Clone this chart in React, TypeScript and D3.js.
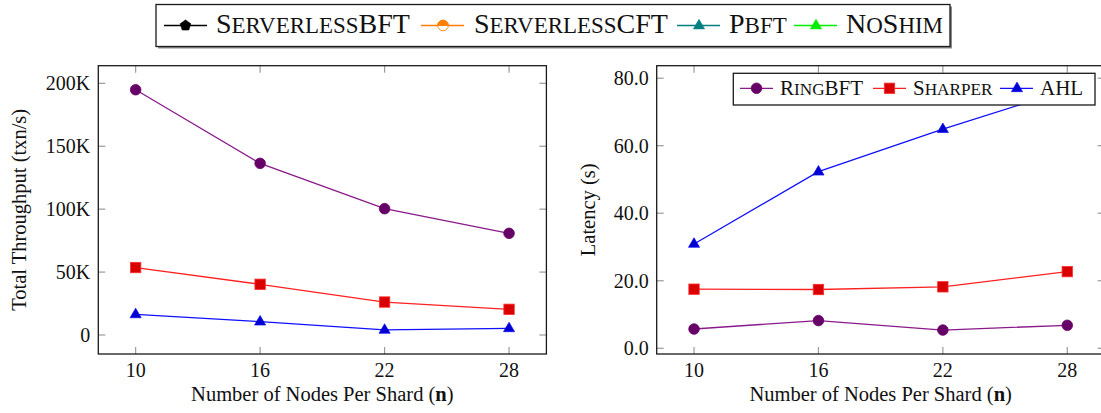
import React from 'react';
import * as d3 from 'd3';

// ---- data ----
const nodesPerShard = [10, 16, 22, 28];
const throughputTicks = [0, 50000, 100000, 150000, 200000];
const latencyTicks = [0, 20, 40, 60, 80];
const ringbftThroughput = [194900, 136400, 100400, 80800];
const sharperThroughput = [53600, 40300, 26200, 20400];
const ahlThroughput = [16400, 10600, 4000, 5300];
const ringbftLatency = [5.7, 8.2, 5.4, 6.8];
const sharperLatency = [17.5, 17.4, 18.2, 22.7];
const ahlLatency = [30.9, 52.3, 64.9, 76.6];
const topLegendNames = ['ServerlessBFT', 'ServerlessCFT', 'Pbft', 'NoShim'];
const innerLegendNames = ['RingBFT', 'Sharper', 'AHL'];

const FONT = '"Liberation Serif", "Times New Roman", serif';

type MarkerKind = 'circle' | 'square' | 'triangle' | 'pentagon' | 'halfcircle';

const seriesStyle = [
  { name: 'RingBFT', line: '#8a1a8a', fill: '#660066', stroke: '#660066', marker: 'circle' as MarkerKind },
  { name: 'Sharper', line: '#ff2020', fill: '#d80000', stroke: '#ff3030', marker: 'square' as MarkerKind },
  { name: 'AHL', line: '#1010ff', fill: '#0000d0', stroke: '#0000ff', marker: 'triangle' as MarkerKind },
];

function Marker({ kind, x, y, fill, stroke }: { kind: MarkerKind; x: number; y: number; fill: string; stroke: string }) {
  if (kind === 'circle') return <circle cx={x} cy={y} r={5.3} fill={fill} stroke={stroke} strokeWidth={0.8} />;
  if (kind === 'square') return <rect x={x - 5.2} y={y - 5.2} width={10.4} height={10.4} fill={fill} stroke={stroke} strokeWidth={0.8} />;
  if (kind === 'triangle')
    return <path d={`M${x},${y - 6.2}L${x + 5.6},${y + 3.4}L${x - 5.6},${y + 3.4}Z`} fill={fill} stroke={stroke} strokeWidth={0.6} />;
  if (kind === 'pentagon') {
    const pts = d3.range(5).map((i) => {
      const a = -Math.PI / 2 + (i * 2 * Math.PI) / 5;
      return `${x + 5.6 * Math.cos(a)},${y + 5.6 * Math.sin(a)}`;
    });
    return <polygon points={pts.join(' ')} fill={fill} stroke={stroke} strokeWidth={0.6} />;
  }
  // half circle: top half filled
  const r = 5.3;
  return (
    <g>
      <circle cx={x} cy={y} r={r} fill="white" stroke={stroke} strokeWidth={0.9} />
      <path d={`M${x - r},${y}A${r},${r} 0 0 1 ${x + r},${y}Z`} fill={fill} stroke={stroke} strokeWidth={0.9} />
    </g>
  );
}

function SmallCaps({ text, x, y, size, ratio = 0.78 }: { text: string; x: number; y: number; size: number; ratio?: number }) {
  const groups: { s: string; big: boolean }[] = [];
  for (const ch of text) {
    const big = ch === ch.toUpperCase();
    const last = groups[groups.length - 1];
    if (last && last.big === big) last.s += ch;
    else groups.push({ s: ch, big });
  }
  return (
    <text x={x} y={y} fontFamily={FONT} fontSize={size} fill="#111">
      {groups.map((g, i) => (
        <tspan key={i} fontSize={g.big ? size : size * ratio}>
          {g.s.toUpperCase()}
        </tspan>
      ))}
    </text>
  );
}

function Panel({
  x0, x1, yDomain, ticks, fmt, series, yLabel, yLabelX,
}: {
  x0: number; x1: number; yDomain: [number, number]; ticks: number[]; fmt: (v: number) => string;
  series: number[][]; yLabel: string; yLabelX: number;
}) {
  const top = 65.7, bottom = 354;
  const x = d3.scaleLinear().domain([8.2, 29.8]).range([x0, x1]);
  const y = d3.scaleLinear().domain(yDomain).range([bottom, top]);
  const tl = 7;
  const tickColor = '#9a9a9a';
  const line = d3.line<number>().x((_, i) => x(nodesPerShard[i])).y((d) => y(d));
  return (
    <g>
      {nodesPerShard.map((v) => (
        <g key={'xt' + v}>
          <line x1={x(v)} x2={x(v)} y1={bottom} y2={bottom - tl} stroke={tickColor} strokeWidth={1.2} />
          <line x1={x(v)} x2={x(v)} y1={top} y2={top + tl} stroke={tickColor} strokeWidth={1.2} />
          <text x={x(v)} y={377} textAnchor="middle" fontFamily={FONT} fontSize={20} fill="#111">{v}</text>
        </g>
      ))}
      {ticks.map((v) => (
        <g key={'yt' + v}>
          <line x1={x0} x2={x0 + tl} y1={y(v)} y2={y(v)} stroke={tickColor} strokeWidth={1.2} />
          <line x1={x1} x2={x1 - tl} y1={y(v)} y2={y(v)} stroke={tickColor} strokeWidth={1.2} />
          <text x={x0 - 8} y={y(v)} dy="0.34em" textAnchor="end" fontFamily={FONT} fontSize={20} fill="#111">{fmt(v)}</text>
        </g>
      ))}
      {series.map((vals, si) => (
        <g key={'s' + si}>
          <path d={line(vals) || ''} fill="none" stroke={seriesStyle[si].line} strokeWidth={1.3} />
          {vals.map((v, i) => (
            <Marker key={i} kind={seriesStyle[si].marker} x={x(nodesPerShard[i])} y={y(v)} fill={seriesStyle[si].fill} stroke={seriesStyle[si].stroke} />
          ))}
        </g>
      ))}
      <rect x={x0} y={top} width={x1 - x0} height={bottom - top} fill="none" stroke="#1a1a1a" strokeWidth={1.3} />
      <text x={(x0 + x1) / 2} y={401} textAnchor="middle" fontFamily={FONT} fontSize={20.5} fill="#111">
        Number of Nodes Per Shard (<tspan fontWeight="bold">n</tspan>)
      </text>
      <text transform={`translate(${yLabelX},${(top + bottom) / 2}) rotate(-90)`} textAnchor="middle" fontFamily={FONT} fontSize={20.5} fill="#111">
        {yLabel}
      </text>
    </g>
  );
}

export default function App() {
  const topItems = [
    { lineX: 164, mark: 185.5, textX: 216, color: '#000000', kind: 'pentagon' as MarkerKind },
    { lineX: 421, mark: 443, textX: 474, color: '#ff8000', kind: 'halfcircle' as MarkerKind },
    { lineX: 677, mark: 699, textX: 729, color: '#008080', kind: 'triangle' as MarkerKind },
    { lineX: 794, mark: 816, textX: 846, color: '#00ee00', kind: 'triangle' as MarkerKind },
  ];
  const innerItems = [
    { lineX: 740, mark: 756.5, textX: 780 },
    { lineX: 873, mark: 889.5, textX: 913 },
    { lineX: 1000, mark: 1017, textX: 1040 },
  ];
  return (
    <svg width={1101} height={413} style={{ position: 'absolute', left: 0, top: 0, background: 'white' }}>
      <rect x={0} y={0} width={1101} height={413} fill="white" />
      <Panel
        x0={98.3} x1={546.4} yDomain={[-15100, 214000]} ticks={throughputTicks}
        fmt={(v) => (v === 0 ? '0' : `${v / 1000}K`)}
        series={[ringbftThroughput, sharperThroughput, ahlThroughput]}
        yLabel="Total Throughput (txn/s)" yLabelX={26}
      />
      <Panel
        x0={656.7} x1={1104.6} yDomain={[-1.7, 83.7]} ticks={latencyTicks}
        fmt={(v) => v.toFixed(1)}
        series={[ringbftLatency, sharperLatency, ahlLatency]}
        yLabel="Latency (s)" yLabelX={595}
      />
      {/* inner legend */}
      <rect x={733.3} y={73.3} width={361.7} height={31.7} fill="white" stroke="#1a1a1a" strokeWidth={1.3} />
      {innerItems.map((it, i) => (
        <g key={'il' + i}>
          <line x1={it.lineX} x2={it.lineX + 33} y1={88.3} y2={88.3} stroke={seriesStyle[i].line} strokeWidth={1.3} />
          <Marker kind={seriesStyle[i].marker} x={it.mark} y={88.3} fill={seriesStyle[i].fill} stroke={seriesStyle[i].stroke} />
          <SmallCaps text={innerLegendNames[i]} x={it.textX} y={94.6} size={21} ratio={0.82} />
        </g>
      ))}
      {/* top legend */}
      <rect x={158} y={6.5} width={794} height={42} fill="#8a8a8a" />
      <rect x={156} y={4.5} width={794} height={42} fill="white" stroke="#1a1a1a" strokeWidth={1.3} />
      {topItems.map((it, i) => (
        <g key={'tl' + i}>
          <line x1={it.lineX} x2={it.lineX + 43} y1={25.5} y2={25.5} stroke={it.color} strokeWidth={1.3} />
          <Marker kind={it.kind} x={it.mark} y={25.5} fill={it.color} stroke={it.color} />
          <SmallCaps text={topLegendNames[i]} x={it.textX} y={33.3} size={28} ratio={0.82} />
        </g>
      ))}
    </svg>
  );
}
